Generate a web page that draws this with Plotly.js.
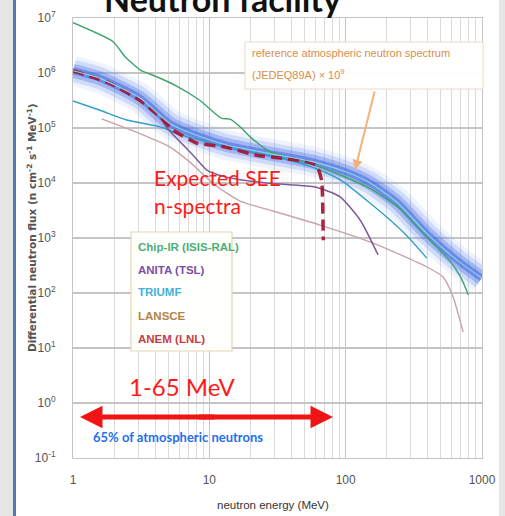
<!DOCTYPE html>
<html><head><meta charset="utf-8">
<script src="https://cdn.plot.ly/plotly-3.0.1.min.js"></script>
<style>html,body{margin:0;padding:0;background:#fff;}#chart{width:505px;height:516px;}</style>
</head><body><div id="chart"></div>
<script>
// ---- data (energy in MeV, flux in n cm^-2 s^-1 MeV^-1) ----
const chipIrEnergy = [1, 1.97, 2.4, 3.19, 3.67, 5.76, 8.5, 12.3, 14.2, 16.8, 19.9, 27.9, 46, 80, 150, 250, 400, 583, 700, 795];
const chipIrFlux   = [8.2e6, 3.7e6, 2.0e6, 1.09e6, 9.6e5, 5.8e5, 3.2e5, 1.5e5, 1.45e5, 1.05e5, 6.9e4, 3.7e4, 2.6e4, 1.6e4, 8e3, 3.4e3, 1.0e3, 380, 190, 92];

const triumfEnergy = [1, 1.58, 2.48, 4.35, 5.8, 8.5, 13.4, 26, 55, 91, 143, 200, 281, 394];
const triumfFlux   = [3.1e5, 2.1e5, 1.4e5, 1.05e5, 8e4, 6e4, 4.5e4, 3.3e4, 2e4, 1.15e4, 4.8e3, 2.4e3, 1.1e3, 430];

const anitaEnergy = [4.35, 4.9, 6.1, 7.6, 9.6, 13, 16.8, 26.5, 39, 61.7, 91, 128, 173];
const anitaFlux   = [1.6e5, 1.0e5, 5.6e4, 3.2e4, 1.72e4, 1.3e4, 1.15e4, 1.0e4, 9.3e3, 8.3e3, 5.6e3, 2.1e3, 490];

const lansceEnergy = [1.62, 3.26, 5.15, 7.2, 11, 16.8, 29.3, 64.9, 159, 395, 518, 614, 727];
const lansceFlux   = [1.46e5, 7.5e4, 4.5e4, 2.4e4, 9.2e3, 4.7e3, 3.1e3, 1.72e3, 810, 297, 195, 85, 19.5];

const jedecEnergy = [1, 1.58, 3.1, 5.15, 8.55, 13.4, 26.4, 54.8, 100, 151, 237, 394, 653, 996];
const jedecFlux   = [1.1e6, 8e5, 3.5e5, 1.2e5, 7e4, 4.9e4, 3.5e4, 2.5e4, 1.6e4, 1.0e4, 4.5e3, 1.2e3, 400, 186];

const seeEnergy = [1, 1.87, 3.1, 4.35, 5.44, 8.1, 12.6, 22.3, 35, 51.8, 61.4, 66.7, 68.5];
const seeFlux   = [1.1e6, 6.5e5, 3.2e5, 1.6e5, 9.1e4, 5.3e4, 4.6e4, 3.2e4, 2.8e4, 2.45e4, 2.1e4, 1.1e4, 910];

const xTickVals = [1, 10, 100, 1000];
const xTickText = ['1', '10', '100', '1000'];
const yTickVals = [0.1, 1, 10, 100, 1e3, 1e4, 1e5, 1e6, 1e7];
const yTickText = ['10<sup>-1</sup>', '10<sup>0</sup>', '10<sup>1</sup>', '10<sup>2</sup>', '10<sup>3</sup>', '10<sup>4</sup>', '10<sup>5</sup>', '10<sup>6</sup>', '10<sup>7</sup>'];

const legendNames = ['Chip-IR (ISIS-RAL)', 'ANITA (TSL)', 'TRIUMF', 'LANSCE', 'ANEM (LNL)'];
const legendColors = ['#4cad7a', '#7b4fa5', '#3fb3dc', '#b5834a', '#c73a47'];

// ---- layout helpers (pixel -> paper) ----
const W = 505, H = 516, L = 73, R = 482, T = 18, B = 458;
const px = p => (p - L) / (R - L);
const py = p => (B - p) / (B - T);

const SANS = 'Liberation Sans, Arial, sans-serif';
const sp = {shape: 'spline', smoothing: 0.6};

const traces = [
  {x: jedecEnergy, y: jedecFlux, mode: 'lines', line: Object.assign({color: 'rgba(120,155,240,0.12)', width: 30}, sp)},
  {x: jedecEnergy, y: jedecFlux, mode: 'lines', line: Object.assign({color: 'rgba(95,135,235,0.22)', width: 22}, sp)},
  {x: jedecEnergy, y: jedecFlux, mode: 'lines', line: Object.assign({color: 'rgba(75,115,228,0.35)', width: 14}, sp)},
  {x: jedecEnergy, y: jedecFlux, mode: 'lines', line: Object.assign({color: 'rgba(55,95,215,0.5)', width: 7}, sp)},
  {x: chipIrEnergy, y: chipIrFlux, mode: 'lines', line: Object.assign({color: '#3ea36a', width: 1.4}, sp)},
  {x: triumfEnergy, y: triumfFlux, mode: 'lines', line: Object.assign({color: '#2f9fc8', width: 1.4}, sp)},
  {x: lansceEnergy, y: lansceFlux, mode: 'lines', line: Object.assign({color: '#c9a3a6', width: 1.4}, sp)},
  {x: anitaEnergy, y: anitaFlux, mode: 'lines', line: Object.assign({color: '#7d5a9c', width: 1.5}, sp)},
  {x: seeEnergy, y: seeFlux, mode: 'lines', line: {color: 'rgba(165,22,48,0.92)', width: 3.5, dash: '11px,6px', shape: 'spline', smoothing: 0.4}},
  {x: jedecEnergy, y: jedecFlux, mode: 'lines', line: Object.assign({color: '#8ad4f2', width: 1.2}, sp)}
];

function note(xp, yp, text, font, xanchor, extra) {
  return Object.assign({xref: 'paper', yref: 'paper', x: px(xp), y: py(yp), text: text, font: font,
    xanchor: xanchor || 'left', yanchor: 'middle', showarrow: false}, extra || {});
}

const annotations = [];
// title (cut at the top, as in the reference)
annotations.push(note(222, 21, '<b>Neutron facility</b>', {family: 'Lato, Liberation Sans, sans-serif', size: 34, color: '#111'}, 'center', {yanchor: 'bottom'}));
// y title
annotations.push(note(31, 228, 'Differential neutron flux (n cm<sup>-2</sup> s<sup>-1</sup> MeV<sup>-1</sup>)',
  {family: 'DejaVu Sans, sans-serif', size: 10.5, color: '#555', weight: 'bold'}, 'center', {textangle: -90}));
// x title
annotations.push(note(273, 505, 'neutron energy (MeV)', {family: SANS, size: 11.5, color: '#333'}, 'center'));
// reference box text
annotations.push(note(250, 53, 'reference atmospheric neutron spectrum', {family: SANS, size: 11, color: '#d98e4a'}));
annotations.push(note(250, 74, '(JEDEQ89A) × 10<sup>9</sup>', {family: SANS, size: 11, color: '#d98e4a'}));
// arrow from box to band
annotations.push({xref: 'paper', yref: 'paper', x: px(355), y: py(170), ax: 20, ay: -80, showarrow: true,
  arrowhead: 2, arrowsize: 1, arrowwidth: 2, arrowcolor: '#f2b27e', text: ''});
// legend texts
legendNames.forEach((n, i) => {
  annotations.push(note(136, 246.5 + i * 23, n, {family: SANS, size: 11.5, color: legendColors[i], weight: 'bold'}));
});
// red texts
annotations.push(note(152, 177, 'Expected SEE', {family: 'Lato, sans-serif', size: 21, color: '#ff1a1a'}));
annotations.push(note(152, 205, 'n-spectra', {family: 'Lato, sans-serif', size: 21, color: '#ff1a1a'}));
annotations.push(note(127, 386, '1-65 MeV', {family: 'Lato, sans-serif', size: 24, color: '#ff1a1a'}));
// double arrow
annotations.push({xref: 'paper', yref: 'paper', x: px(80), y: py(417), ax: 136, ay: 0, showarrow: true,
  arrowhead: 2, arrowsize: 0.9, arrowwidth: 5, arrowcolor: '#f01414', text: ''});
annotations.push({xref: 'paper', yref: 'paper', x: px(333), y: py(417), ax: -136, ay: 0, showarrow: true,
  arrowhead: 2, arrowsize: 0.9, arrowwidth: 5, arrowcolor: '#f01414', text: ''});
annotations.push(note(91, 437, '<b>65% of atmospheric neutrons</b>', {family: 'Lato, sans-serif', size: 13, color: '#1f6fee'}));

const shapes = [
  {type: 'rect', xref: 'paper', yref: 'paper', x0: px(-5), x1: px(13), y0: py(-5), y1: py(525), line: {width: 0}, fillcolor: '#e6e6e6', layer: 'below'},
  {type: 'rect', xref: 'paper', yref: 'paper', x0: px(499), x1: px(510), y0: py(-5), y1: py(525), line: {width: 0}, fillcolor: '#e6e6e6', layer: 'below'},
  {type: 'line', xref: 'paper', yref: 'paper', x0: px(14.5), x1: px(14.5), y0: py(-5), y1: py(525), line: {width: 3, color: '#4f7db3'}},
  {type: 'rect', xref: 'paper', yref: 'paper', x0: px(245), x1: px(483), y0: py(89), y1: py(42), line: {width: 1, color: '#eadbc6'}, fillcolor: 'rgba(255,255,255,0.97)'},
  {type: 'rect', xref: 'paper', yref: 'paper', x0: px(131), x1: px(232), y0: py(351), y1: py(232), line: {width: 1.2, color: '#e3d6b8'}, fillcolor: 'rgba(255,255,252,0.97)'}
];

const layout = {
  width: W, height: H,
  margin: {l: L, r: W - R, t: T, b: H - B, pad: 0},
  paper_bgcolor: '#fff', plot_bgcolor: '#fff',
  showlegend: false, hovermode: false,
  xaxis: {type: 'log', range: [0, 3], tickvals: xTickVals, ticktext: xTickText,
    showgrid: true, gridcolor: '#c4c4c4', gridwidth: 1,
    minor: {dtick: 'D1', showgrid: true, gridcolor: '#dadada', gridwidth: 1, ticks: ''},
    showline: true, linecolor: '#c4c4c4', mirror: true, zeroline: false,
    ticks: 'outside', ticklen: 11, tickcolor: 'rgba(0,0,0,0)',
    tickfont: {family: SANS, size: 12, color: '#555'}},
  yaxis: {type: 'log', range: [-1, 7], tickvals: yTickVals, ticktext: yTickText,
    showgrid: true, gridcolor: '#c4c4c4', gridwidth: 1.2,
    showline: true, linecolor: '#c4c4c4', mirror: true, zeroline: false,
    ticks: 'outside', ticklen: 14, tickcolor: 'rgba(0,0,0,0)',
    tickfont: {family: SANS, size: 12, color: '#555'}},
  annotations: annotations,
  shapes: shapes
};

Plotly.newPlot('chart', traces, layout, {displayModeBar: false, staticPlot: true});
</script></body></html>
